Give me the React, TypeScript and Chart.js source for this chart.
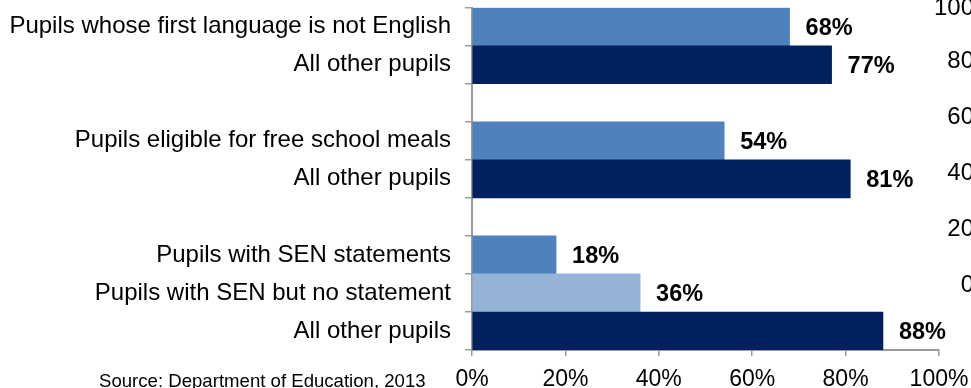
import React, { useEffect, useRef } from "react";
import { Chart, registerables } from "chart.js";

Chart.register(...registerables);

const categories: string[] = [
  "Pupils whose first language is not English",
  "All other pupils",
  "",
  "Pupils eligible for free school meals",
  "All other pupils",
  "",
  "Pupils with SEN statements",
  "Pupils with SEN but no statement",
  "All other pupils",
];

const values: (number | null)[] = [68, 77, null, 54, 81, null, 18, 36, 88];

const barColors: string[] = [
  "#4F81BD",
  "#002060",
  "#4F81BD",
  "#4F81BD",
  "#002060",
  "#4F81BD",
  "#4F81BD",
  "#95B3D7",
  "#002060",
];

const xTicks: number[] = [0, 20, 40, 60, 80, 100];
const sourceText = "Source: Department of Education, 2013";
const clippedAxisLabels: string[] = ["100", "80", "60", "40", "20", "0"];

const FONT = "'Liberation Sans', Arial, Helvetica, sans-serif";

export default function App() {
  const canvasRef = useRef<HTMLCanvasElement | null>(null);

  useEffect(() => {
    document.body.style.margin = "0";
    const canvas = canvasRef.current;
    if (!canvas) return;

    const extrasPlugin = {
      id: "extras",
      afterDatasetsDraw(chart: any) {
        const ctx = chart.ctx;
        const meta = chart.getDatasetMeta(0);
        ctx.save();
        ctx.fillStyle = "#000000";
        ctx.font = `bold 23.5px ${FONT}`;
        ctx.textAlign = "left";
        ctx.textBaseline = "middle";
        meta.data.forEach((bar: any, i: number) => {
          const v = values[i];
          if (v === null || v === undefined) return;
          ctx.fillText(`${v}%`, bar.x + 16, bar.y + 1.5);
        });
        ctx.restore();
      },
      afterDraw(chart: any) {
        const ctx = chart.ctx;
        ctx.save();
        ctx.fillStyle = "#000000";
        ctx.font = `18.6px ${FONT}`;
        ctx.textAlign = "left";
        ctx.textBaseline = "alphabetic";
        ctx.fillText(sourceText, 99, 386.5);

        ctx.font = `24px ${FONT}`;
        ctx.textAlign = "right";
        ctx.textBaseline = "middle";
        const ys = [7, 60, 116, 172, 228, 284];
        clippedAxisLabels.forEach((t, i) => {
          ctx.fillText(t, 974, ys[i] + 1);
        });
        ctx.restore();
      },
    };

    const chart = new Chart(canvas, {
      type: "bar",
      data: {
        labels: categories,
        datasets: [
          {
            data: values as any,
            backgroundColor: barColors,
            borderWidth: 0,
            categoryPercentage: 1,
            barPercentage: 1,
          },
        ],
      },
      options: {
        indexAxis: "y",
        animation: false,
        responsive: false,
        maintainAspectRatio: false,
        layout: { padding: { top: 7.7, right: 32, left: 0, bottom: 0 } },
        plugins: {
          legend: { display: false },
          tooltip: { enabled: false },
        },
        scales: {
          y: {
            type: "category",
            offset: true,
            afterFit: (scale: any) => {
              scale.width = 472;
              scale.paddingTop = 0;
              scale.paddingBottom = 0;
            },
            grid: {
              display: true,
              offset: true,
              drawOnChartArea: false,
              drawTicks: true,
              tickLength: 7,
              color: "#9A9A9A",
              lineWidth: 1.5,
            },
            border: { display: true, color: "#9A9A9A", width: 2 },
            ticks: {
              color: "#000000",
              padding: 14,
              autoSkip: false,
              font: { family: FONT, size: 24 },
            },
          },
          x: {
            type: "linear",
            min: 0,
            max: 100,
            afterFit: (scale: any) => {
              scale.height = 38;
              scale.paddingLeft = 0;
              scale.paddingRight = 0;
            },
            afterBuildTicks: (scale: any) => {
              scale.ticks = xTicks.map((v) => ({ value: v }));
            },
            grid: {
              display: true,
              drawOnChartArea: false,
              drawTicks: true,
              tickLength: 6,
              color: "#9A9A9A",
              lineWidth: 1.5,
            },
            border: { display: true, color: "#9A9A9A", width: 2 },
            ticks: {
              color: "#000000",
              padding: 10,
              maxRotation: 0,
              autoSkip: false,
              font: { family: FONT, size: 23 },
              callback: (v: any) => `${v}%`,
            },
          },
        },
      },
      plugins: [extrasPlugin],
    });

    return () => {
      chart.destroy();
    };
  }, []);

  return (
    <div
      style={{
        position: "absolute",
        left: 0,
        top: 0,
        width: 971,
        height: 388,
        overflow: "hidden",
        background: "#ffffff",
      }}
    >
      <canvas ref={canvasRef} width={971} height={388} />
    </div>
  );
}
